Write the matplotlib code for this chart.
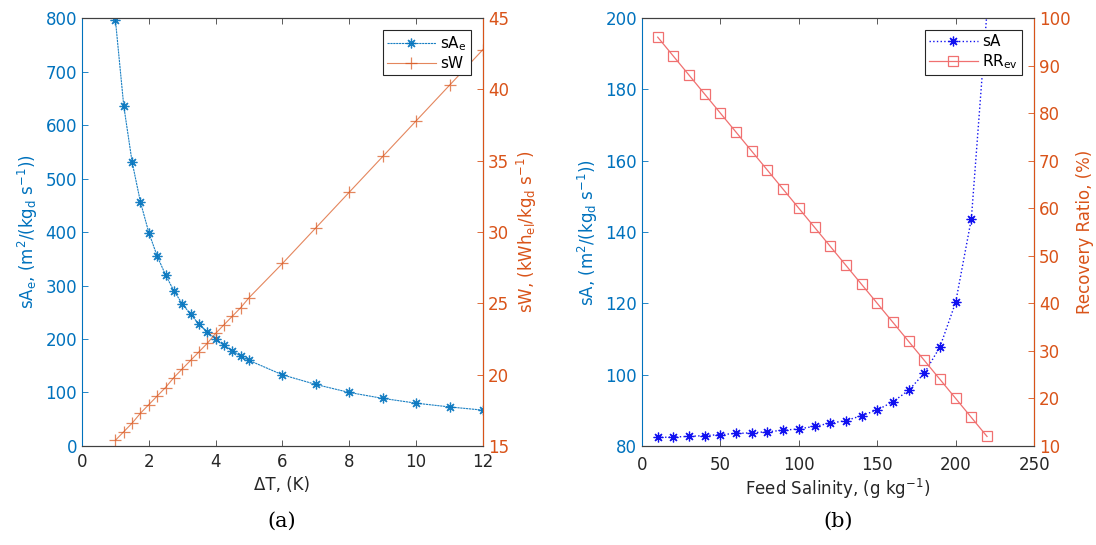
import matplotlib.pyplot as plt
import numpy as np

# (a) specific area / specific work vs temperature difference
dT = [1, 1.25, 1.5, 1.75, 2, 2.25, 2.5, 2.75, 3, 3.25, 3.5, 3.75, 4,
      4.25, 4.5, 4.75, 5, 6, 7, 8, 9, 10, 11, 12]
sAe = [797, 636, 531, 456, 399, 355, 320, 290, 266, 246, 228, 213, 200,
       188, 178, 168, 160, 133, 115, 100, 89, 80, 73, 67]
sW = [15.4, 16.0, 16.6, 17.3, 17.9, 18.5, 19.1, 19.8, 20.4, 21.0, 21.6, 22.2,
      22.9, 23.5, 24.1, 24.7, 25.4, 27.8, 30.3, 32.8, 35.3, 37.8, 40.3, 42.8]

# (b) specific area / recovery ratio vs feed salinity
sal = [10, 20, 30, 40, 50, 60, 70, 80, 90, 100, 110, 120, 130, 140, 150,
       160, 170, 180, 190, 200, 210, 220]
sA = [82.4, 82.5, 82.7, 82.9, 83.2, 83.5, 83.7, 84.0, 84.4, 84.8, 85.5, 86.4,
      87.1, 88.5, 90.1, 92.4, 95.6, 100.4, 107.8, 120.3, 143.7, 202]
RR = [96, 92, 88, 84, 80, 76, 72, 68, 64, 60, 56, 52, 48, 44, 40, 36, 32,
      28, 24, 20, 16, 12]

blue = '#0072BD'
orange = '#D95319'
gray = '#404040'
ast = (8, 2, 0)  # matlab-like asterisk

plt.rcParams['font.family'] = 'DejaVu Sans'
plt.rcParams['mathtext.fontset'] = 'dejavusans'
plt.rcParams['mathtext.default'] = 'regular'

fig = plt.figure(figsize=(10.96, 5.45), dpi=100)


def style(ax, ax2, lcol, rcol, xpad=5):
    for a in (ax, ax2):
        a.tick_params(direction='in', length=4, width=0.6, labelsize=12)
        for s in a.spines.values():
            s.set_linewidth(0.8)
            s.set_color(gray)
    ax.spines['left'].set_color(lcol)
    ax2.spines['right'].set_color(rcol)
    ax2.spines['left'].set_visible(False)
    ax.tick_params(axis='y', colors=lcol)
    ax2.tick_params(axis='y', colors=rcol)
    ax.tick_params(axis='x', colors=gray, top=True, labelcolor='#262626',
                   pad=xpad)
    ax.yaxis.label.set_color(lcol)
    ax2.yaxis.label.set_color(rcol)


# ---- panel (a)
ax1 = fig.add_axes([0.0748, 0.1817, 0.3659, 0.785])
ax1b = ax1.twinx()
l1, = ax1.plot(dT, sAe, color=blue, ls='--', dashes=(2, 0.6), lw=0.8,
               marker=ast, ms=7, mew=0.9, alpha=0.9, label='sA$_e$')
l2, = ax1b.plot(dT, sW, color=orange, ls='-', lw=0.8, marker='+', ms=8,
                mew=0.9, alpha=0.7, label='sW')
ax1.set_xlim(0, 12)
ax1.set_ylim(0, 800)
ax1b.set_ylim(15, 45)
ax1.set_xticks(np.arange(0, 13, 2))
ax1.set_yticks(np.arange(0, 801, 100))
ax1b.set_yticks(np.arange(15, 46, 5))
ax1.set_xlabel('ΔT, (K)', fontsize=12, color='#262626')
ax1.set_ylabel('sA$_e$, (m$^2$/(kg$_d$ s$^{-1}$))', fontsize=12)
ax1b.set_ylabel('sW, (kWh$_{el}$/kg$_d$ s$^{-1}$)', fontsize=12)
style(ax1, ax1b, blue, orange)
leg = ax1b.legend(handles=[l1, l2], loc='upper right', fontsize=11,
                  fancybox=False, framealpha=1, edgecolor='#262626',
                  borderpad=0.25, handlelength=3.2, handletextpad=0.3,
                  labelspacing=0.2, borderaxespad=0.8)
leg.get_frame().set_linewidth(0.8)

# ---- panel (b)
ax2 = fig.add_axes([0.5858, 0.1817, 0.3577, 0.785])
ax2b = ax2.twinx()
m1, = ax2.plot(sal, sA, color='#1010F0', ls=':', lw=1.0, marker=ast, ms=7,
               mew=0.9, label='sA')
m2, = ax2b.plot(sal, RR, color='#F07070', ls='-', lw=0.9, marker='s', ms=7,
                mfc='none', mew=0.9, label='RR$_{ev}$')
ax2.set_xlim(0, 250)
ax2.set_ylim(80, 200)
ax2b.set_ylim(10, 100)
ax2.set_xticks(np.arange(0, 251, 50))
ax2.set_yticks(np.arange(80, 201, 20))
ax2b.set_yticks(np.arange(10, 101, 10))
ax2.set_xlabel('Feed Salinity, (g kg$^{-1}$)', fontsize=12, color='#262626',
               labelpad=2)
ax2.set_ylabel('sA, (m$^2$/(kg$_d$ s$^{-1}$))', fontsize=12)
ax2b.set_ylabel('Recovery Ratio, (%)', fontsize=12)
style(ax2, ax2b, blue, orange, xpad=7)
leg2 = ax2b.legend(handles=[m1, m2], loc='upper right', fontsize=11,
                   fancybox=False, framealpha=1, edgecolor='#262626',
                   borderpad=0.25, handlelength=3.2, handletextpad=0.3,
                   labelspacing=0.2, borderaxespad=0.8)
leg2.get_frame().set_linewidth(0.8)

# panel captions
fig.text(0.257, 0.043, '(a)', ha='center', va='center', fontsize=15,
         family='serif')
fig.text(0.765, 0.043, '(b)', ha='center', va='center', fontsize=15,
         family='serif')

fig.savefig('out.png', dpi=100)
